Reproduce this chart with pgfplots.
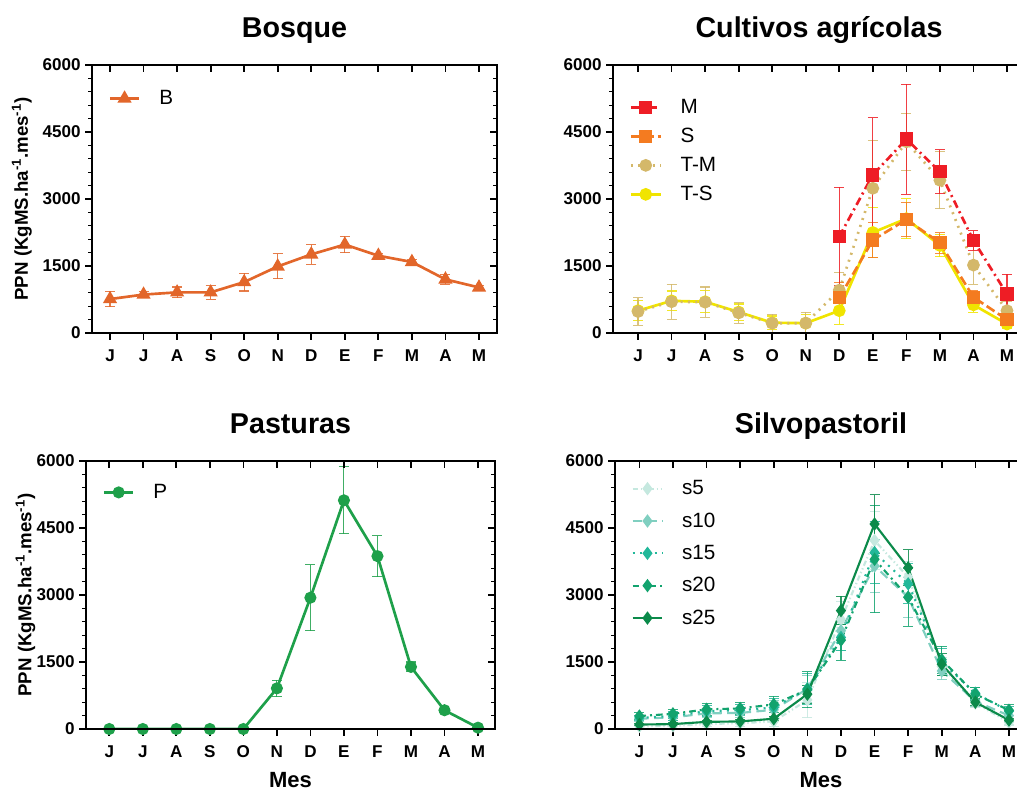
\documentclass[border=0pt]{standalone}
\usepackage{fontspec}
\setmainfont{Liberation Sans}
\usepackage{pgfplots}
\pgfplotsset{compat=1.18}
\usepackage{pgfplotstable}

\definecolor{cB}{HTML}{E2662A}
\definecolor{cP}{HTML}{1EA04A}
\definecolor{cM}{HTML}{EE1D25}
\definecolor{cS}{HTML}{F47B20}
\definecolor{cTM}{HTML}{D4B86A}
\definecolor{cTS}{HTML}{F0E400}
\definecolor{s5}{HTML}{C5E8DF}
\definecolor{s10}{HTML}{80CFC0}
\definecolor{s15}{HTML}{22B89A}
\definecolor{s20}{HTML}{12A36E}
\definecolor{s25}{HTML}{0B8A4A}

% month index 0..11 = J J A S O N D E F M A M
\pgfplotstableread{
x y e
0 760 170
1 860 60
2 910 120
3 910 150
4 1140 200
5 1490 280
6 1760 220
7 1980 185
8 1730 60
9 1590 50
10 1200 110
11 1020 40
}\bosque

\pgfplotstableread{
x y e
0 0 0
1 0 0
2 0 0
3 0 0
4 0 0
5 910 185
6 2940 735
7 5120 750
8 3870 460
9 1390 110
10 420 40
11 30 20
}\pastura

\pgfplotstableread{
x M eM S eS TM eTM TS eTS
0 nan nan nan nan 480 310 500 230
1 nan nan nan nan 700 390 720 220
2 nan nan nan nan 690 340 700 250
3 nan nan nan nan 450 230 470 180
4 nan nan nan nan 220 200 230 150
5 nan nan nan nan 220 240 220 200
6 2160 1100 790 340 960 400 500 300
7 3540 1280 2080 390 3240 1080 2250 570
8 4340 1230 2540 380 4280 640 2560 450
9 3610 490 2020 230 3420 640 1960 250
10 2070 220 800 150 1520 430 630 170
11 870 440 300 100 500 200 200 100
}\cultivo

\pgfplotstableread{
x a ea b eb c ec d ed f ef
0 60 50 230 60 250 60 290 70 100 30
1 70 50 260 80 290 90 340 100 110 30
2 110 60 350 100 400 120 440 130 160 40
3 130 80 360 110 420 120 460 130 170 40
4 170 120 430 200 480 200 550 180 230 50
5 650 400 900 300 900 350 880 400 780 200
6 2450 400 2200 450 2050 300 1990 450 2650 320
7 4220 640 3650 600 3950 700 3800 1200 4590 660
8 3400 350 2950 450 3250 450 2950 650 3610 400
9 1400 200 1300 200 1500 300 1550 300 1450 250
10 580 100 620 120 800 130 780 150 600 80
11 150 60 300 100 400 100 420 120 200 40
}\silvo

\pgfplotsset{
  panel/.style={
    scale only axis, height=201pt,
    ymin=0, ymax=6000, ytick={0,1500,3000,4500,6000}, minor y tick num=4,
    xtick={0,...,11}, xticklabels={J,J,A,S,O,N,D,E,F,M,A,M},
    tick align=outside, xtick pos=bottom, ytick pos=left,
    axis line style={line width=1.5pt},
    major tick style={line width=1.3pt, black}, major tick length=5pt,
    minor tick style={line width=1pt, black}, minor tick length=3pt,
    tick label style={font=\fontsize{12.8}{14}\selectfont\bfseries},
    xticklabel style={yshift=-4pt},
    /pgf/number format/assume math mode=true,
    /pgf/number format/1000 sep={},
    title style={font=\fontsize{21.5}{24}\selectfont\bfseries, anchor=base, yshift=15pt},
    ylabel style={font=\fontsize{14}{16}\selectfont\bfseries, anchor=center},
    xlabel style={font=\fontsize{16.5}{18}\selectfont\bfseries, at={(axis description cs:0.5,0)}, anchor=base, yshift=-43.5pt},
    legend style={draw=none, fill=none, font=\fontsize{15.5}{18}\selectfont,
      anchor=north west, row sep=6pt,
      /tikz/every odd column/.append style={column sep=12pt}},
    legend cell align=left,
    legend image code/.code={\draw[mark repeat=2, mark phase=2, #1]
      plot coordinates {(0cm,0cm) (0.39cm,0cm) (0.78cm,0cm)};},
    error bars/y dir=both, error bars/y explicit,
    error bars/error bar style={solid, line width=0.8pt, opacity=0.85},
    error bars/error mark options={solid, rotate=90, line width=0.8pt, mark size=3.75pt, opacity=0.85},
  },
  mirror/.style={
    scale only axis, height=201pt,
    ymin=0, ymax=6000, ytick={0,1500,3000,4500,6000}, minor y tick num=4,
    xtick={0,...,11}, xticklabels={}, yticklabels={},
    tick align=inside, xtick pos=top, ytick pos=right,
    axis line style={line width=1.5pt},
    major tick style={line width=1.3pt, black}, major tick length=5pt,
    minor tick style={line width=1pt, black}, minor tick length=3pt,
  },
}

\begin{document}
\begin{tikzpicture}
\path[use as bounding box] (0,0) rectangle (762.75pt,592.5pt);
\clip (0,0) rectangle (762.75pt,592.5pt);

% ---- Bosque
\begin{axis}[panel, at={(69pt,342.75pt)}, anchor=south west, width=303.75pt,
  xmin=-0.537, xmax=11.537, title={Bosque},
  ylabel={PPN (KgMS.ha\textsuperscript{-1}.mes\textsuperscript{-1})},
  ylabel style={at={(axis description cs:-0.173,0.5)}},
  legend style={at={(0.03,0.926)}}]
\addplot[cB, line width=2pt, mark=triangle*, mark size=4.2pt]
  table[x=x, y=y, y error=e] {\bosque};
\addlegendentry{B}
\end{axis}
\begin{axis}[mirror, at={(69pt,342.75pt)}, anchor=south west, width=303.75pt,
  xmin=-0.537, xmax=11.537]
\end{axis}

% ---- Cultivos agricolas
\begin{axis}[panel, at={(459.75pt,342.75pt)}, anchor=south west, width=309pt,
  xmin=-0.746, xmax=11.537, title={Cultivos agrícolas},
  legend style={at={(0.03,0.893)}, row sep=5.5pt}, reverse legend]
\addplot[cTS, line width=2pt, mark=*, mark size=3.75pt]
  table[x=x, y=TS, y error=eTS] {\cultivo};
\addlegendentry{T-S}
\addplot[cTM, line width=2pt, dash pattern=on 1.5pt off 4pt, mark=*, mark size=3.75pt,
  mark options={solid}]
  table[x=x, y=TM, y error=eTM] {\cultivo};
\addlegendentry{T-M}
\addplot[cS, line width=2pt, dash pattern=on 7pt off 3pt, mark=square*, mark size=4pt,
  mark options={solid}]
  table[x=x, y=S, y error=eS] {\cultivo};
\addlegendentry{S}
\addplot[cM, line width=2pt, dash pattern=on 6pt off 3pt on 1.5pt off 3pt, mark=square*,
  mark size=4pt, mark options={solid}]
  table[x=x, y=M, y error=eM] {\cultivo};
\addlegendentry{M}
\end{axis}
\begin{axis}[mirror, at={(459.75pt,342.75pt)}, anchor=south west, width=309pt,
  xmin=-0.746, xmax=11.537]
\end{axis}

% ---- Pasturas
\begin{axis}[panel, at={(64.5pt,45.75pt)}, anchor=south west, width=306.75pt,
  xmin=-0.695, xmax=11.507, title={Pasturas}, xlabel={Mes},
  ylabel={PPN (KgMS.ha\textsuperscript{-1}.mes\textsuperscript{-1})},
  ylabel style={at={(axis description cs:-0.148,0.5)}},
  legend style={at={(0.03,0.934)}}]
\addplot[cP, line width=2pt, mark=*, mark size=3.5pt]
  table[x=x, y=y, y error=e] {\pastura};
\addlegendentry{P}
\end{axis}
\begin{axis}[mirror, at={(64.5pt,45.75pt)}, anchor=south west, width=306.75pt,
  xmin=-0.695, xmax=11.507]
\end{axis}

% ---- Silvopastoril
\begin{axis}[panel, at={(461.25pt,45.75pt)}, anchor=south west, width=309pt,
  xmin=-0.725, xmax=11.537, title={Silvopastoril}, xlabel={Mes},
  legend style={at={(0.03,0.948)}, row sep=8pt}]
\addplot[s5, line width=1.6pt, dash pattern=on 4pt off 2pt on 1pt off 2pt on 1pt off 2pt,
  mark=diamond*, mark size=3.75pt, mark options={solid}]
  table[x=x, y=a, y error=ea] {\silvo};
\addlegendentry{s5}
\addplot[s10, line width=1.6pt, dash pattern=on 7pt off 4pt,
  mark=diamond*, mark size=3.75pt, mark options={solid}]
  table[x=x, y=b, y error=eb] {\silvo};
\addlegendentry{s10}
\addplot[s15, line width=1.6pt, dash pattern=on 1.5pt off 4pt,
  mark=diamond*, mark size=3.75pt, mark options={solid}]
  table[x=x, y=c, y error=ec] {\silvo};
\addlegendentry{s15}
\addplot[s20, line width=1.6pt, dash pattern=on 5pt off 3pt on 1.5pt off 3pt,
  mark=diamond*, mark size=3.75pt, mark options={solid}]
  table[x=x, y=d, y error=ed] {\silvo};
\addlegendentry{s20}
\addplot[s25, line width=1.6pt, mark=diamond*, mark size=3.75pt]
  table[x=x, y=f, y error=ef] {\silvo};
\addlegendentry{s25}
\end{axis}
\begin{axis}[mirror, at={(461.25pt,45.75pt)}, anchor=south west, width=309pt,
  xmin=-0.725, xmax=11.537]
\end{axis}
\end{tikzpicture}
\end{document}
